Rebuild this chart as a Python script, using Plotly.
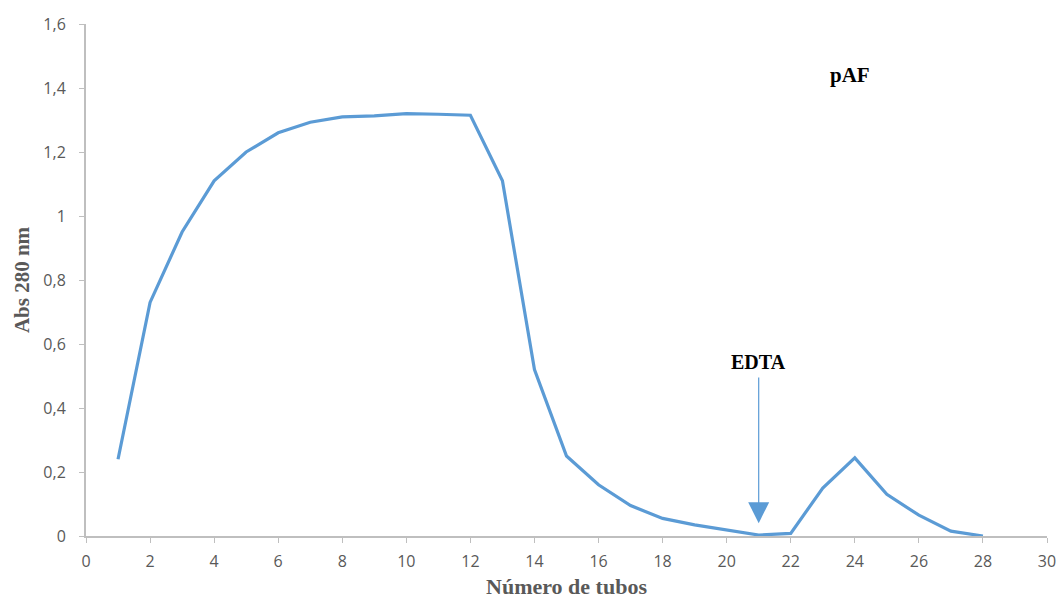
import plotly.graph_objects as go

tubos = list(range(1, 29))
absorbancia = [0.24, 0.73, 0.95, 1.11, 1.20, 1.26, 1.293, 1.31, 1.313, 1.32, 1.318, 1.315,
               1.11, 0.52, 0.25, 0.16, 0.095, 0.055, 0.035, 0.02, 0.003, 0.008,
               0.15, 0.244, 0.13, 0.065, 0.015, 0.0]

y_ticks = [0, 0.2, 0.4, 0.6, 0.8, 1.0, 1.2, 1.4, 1.6]
y_tick_labels = ["0", "0,2", "0,4", "0,6", "0,8", "1", "1,2", "1,4", "1,6"]
x_ticks = list(range(0, 31, 2))

grey = "#595959"
axis_grey = "#bfbfbf"

fig = go.Figure()
fig.add_trace(go.Scatter(x=tubos, y=absorbancia, mode="lines",
                         line=dict(color="#5B9BD5", width=3.2), showlegend=False))

fig.add_annotation(x=21, y=0.04, ax=21, ay=0.50, xref="x", yref="y", axref="x", ayref="y",
                   showarrow=True, arrowhead=2, arrowsize=3.5, arrowwidth=1.2,
                   arrowcolor="#5B9BD5", text="")
fig.add_annotation(x=21, y=0.545, xref="x", yref="y", text="<b>EDTA</b>", showarrow=False,
                   font=dict(family="Liberation Serif", size=20, color="black"))
fig.add_annotation(x=23.85, y=1.44, xref="x", yref="y", text="<b>pAF</b>", showarrow=False,
                   font=dict(family="Liberation Serif", size=21, color="black"))

fig.update_layout(
    width=1058, height=599,
    margin=dict(l=86, r=11, t=24, b=63),
    paper_bgcolor="white", plot_bgcolor="white",
    font=dict(family="Open Sans", color=grey, size=13),
    xaxis=dict(range=[0, 30], tickvals=x_ticks, showgrid=False, zeroline=False,
               showline=True, linecolor=axis_grey, linewidth=2, automargin=False,
               ticks="outside", ticklen=5, tickcolor=axis_grey, ticklabelstandoff=5,
               tickfont=dict(size=16, color=grey),
               title=dict(text="<b>Número de tubos</b>", standoff=9,
                          font=dict(family="Liberation Serif", size=22, color=grey))),
    yaxis=dict(range=[0, 1.6], tickvals=y_ticks, ticktext=y_tick_labels, showgrid=False,
               zeroline=False, showline=True, linecolor=axis_grey, linewidth=2,
               automargin=False,
               ticks="outside", ticklen=5, tickcolor=axis_grey, ticklabelstandoff=10,
               tickfont=dict(size=16, color=grey),
               title=dict(text="<b>Abs 280 nm</b>", standoff=8,
                          font=dict(family="Liberation Serif", size=21, color=grey))),
)

fig.write_html("out.html")
